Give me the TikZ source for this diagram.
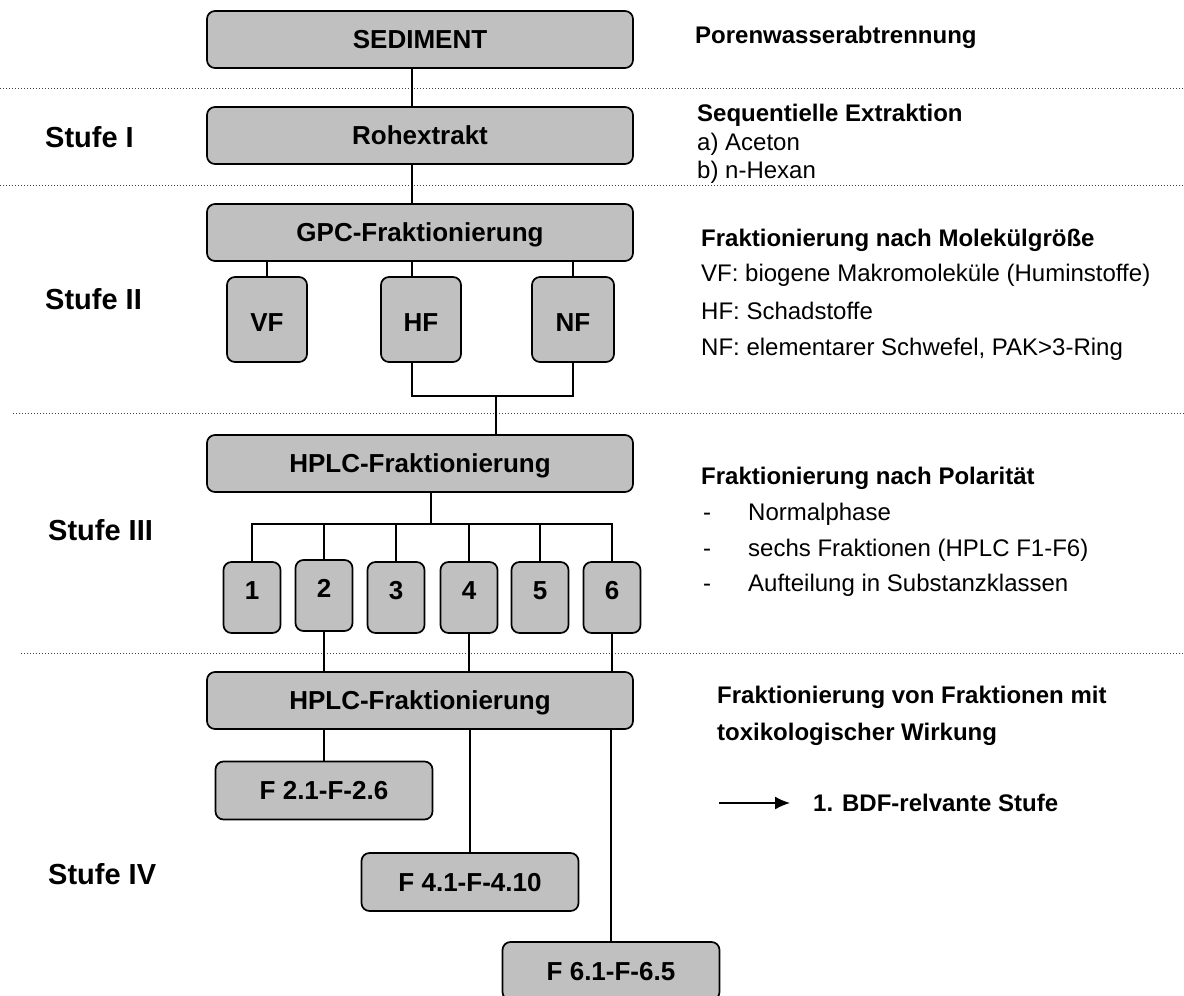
\documentclass[tikz,border=0pt]{standalone}
\usepackage{fontspec}
\setmainfont{Liberation Sans}
\usetikzlibrary{arrows.meta,calc}
\definecolor{boxgray}{RGB}{192,192,192}
\begin{document}
\begin{tikzpicture}[x=1pt,y=-1pt,
  box/.style={draw=black, line width=1.7pt, fill=boxgray, rounded corners=8pt, inner sep=0pt,
    font=\fontsize{26}{30}\selectfont\bfseries, text height=18.6pt, text depth=0pt},
  widebox/.style={box, minimum width=426pt, minimum height=57pt},
  gpcbox/.style={box, minimum width=80pt, minimum height=85pt, text height=23.6pt},
  numbox/.style={box, minimum width=57pt, minimum height=71pt, text depth=14pt},
  fbox/.style={box, minimum width=217pt, minimum height=58pt},
  conn/.style={draw=black, line width=1.7pt},
  sepline/.style={draw=black!75, line width=1pt, dash pattern=on 1pt off 2pt},
  rt/.style={anchor=west, inner sep=0pt, font=\fontsize{24}{28}\selectfont, text height=17.2pt, text depth=0pt},
  rtb/.style={rt, font=\fontsize{24}{28}\selectfont\bfseries},
  stufe/.style={anchor=west, inner sep=0pt, font=\fontsize{29}{34}\selectfont\bfseries, text height=20.8pt, text depth=0pt},
]
\clip (0,0) rectangle (1184,996);
\fill[white] (0,0) rectangle (1184,996);

% separators
\draw[sepline] (0,88) -- (1184,88);
\draw[sepline] (0,185) -- (1184,185);
\draw[sepline] (13,413) -- (1184,413);
\draw[sepline] (21,653) -- (1184,653);

% stage labels
\node[stufe] (s1) at (45,137) {Stufe I};
\node[stufe] (s2) at (45,299) {Stufe II};
\node[stufe] (s3) at (48,530) {Stufe III};
\node[stufe] (s4) at (48,874) {Stufe IV};

% boxes
\node[widebox] (sed) at (420,39.5) {SEDIMENT};
\node[widebox] (roh) at (420,135.5) {Rohextrakt};
\node[widebox] (gpc) at (420,232.5) {GPC-Fraktionierung};
\node[gpcbox] (vf) at (267,319.5) {VF};
\node[gpcbox] (hf) at (421,319.5) {HF};
\node[gpcbox, minimum width=82pt] (nf) at (573,319.5) {NF};
\node[widebox] (hplc1) at (420,463.5) {HPLC-Fraktionierung};
\node[numbox] (n1) at (252,597.5) {1};
\node[numbox] (n2) at (324,595.5) {2};
\node[numbox] (n3) at (396,597.5) {3};
\node[numbox] (n4) at (469,597.5) {4};
\node[numbox] (n5) at (540,597.5) {5};
\node[numbox] (n6) at (612,597.5) {6};
\node[widebox] (hplc2) at (420,700.5) {HPLC-Fraktionierung};
\node[fbox] (f2) at (324,790.5) {F 2.1-F-2.6};
\node[fbox] (f4) at (470,882) {F 4.1-F-4.10};
\node[fbox] (f6) at (611,971) {F 6.1-F-6.5};

% connectors
\coordinate (trunk) at (412,0);
\coordinate (j1) at (496,396);
\coordinate (j2) at (431,524);
\draw[conn] (sed.south -| trunk) -- (roh.north -| trunk);
\draw[conn] (roh.south -| trunk) -- (gpc.north -| trunk);
\draw[conn] (gpc.south -| vf.north) -- (vf.north);
\draw[conn] (gpc.south -| trunk) -- (hf.north -| trunk);
\draw[conn] (gpc.south -| nf.north) -- (nf.north);
\draw[conn] (hf.south -| trunk) |- (j1) -| (nf.south);
\draw[conn] (j1) -- (hplc1.north -| j1);
\draw[conn] (hplc1.south -| j2) -- (j2);
\draw[conn] (n1.north) -- (n1.north |- j2) -- (n6.north |- j2) -- (n6.north);
\foreach \k in {2,3,4,5} {\draw[conn] (n\k.north) -- (n\k.north |- j2);}
\draw[conn] (n2.south) -- (n2.south |- hplc2.north);
\draw[conn] (n4.south) -- (n4.south |- hplc2.north);
\draw[conn] (n6.south) -- (n6.south |- hplc2.north);
\draw[conn] (hplc2.south -| f2.north) -- (f2.north);
\draw[conn] (hplc2.south -| f4.north) -- (f4.north);
\draw[conn] (hplc2.south -| f6.north) -- (f6.north);

% right-hand texts
\node[rtb] (t1) at (695,35) {Porenwasserabtrennung};
\node[rtb] (t2) at (697,113) {Sequentielle Extraktion};
\node[rt] (t2a) at (697,142) {a) Aceton};
\node[rt] (t2b) at (697,170) {b) n-Hexan};
\node[rtb] (t3) at (701,238) {Fraktionierung nach Molekülgröße};
\node[rt] (t3a) at (701,273) {VF: biogene Makromoleküle (Huminstoffe)};
\node[rt] (t3b) at (701,311) {HF: Schadstoffe};
\node[rt] (t3c) at (701,347) {NF: elementarer Schwefel, PAK>3-Ring};
\node[rtb] (t4) at (701,476) {Fraktionierung nach Polarität};
\node[rt] (d1) at (703,512) {-};
\node[rt] (t4a) at (748,512) {Normalphase};
\node[rt] (d2) at (703,548) {-};
\node[rt] (t4b) at (748,548) {sechs Fraktionen (HPLC F1-F6)};
\node[rt] (d3) at (703,583) {-};
\node[rt] (t4c) at (748,583) {Aufteilung in Substanzklassen};
\node[rtb] (t5) at (717,695) {Fraktionierung von Fraktionen mit};
\node[rtb] (t5b) at (717,732) {toxikologischer Wirkung};
\node[rtb] (bdf) at (813,803) {1. BDF-relvante Stufe};
\coordinate (arrstart) at (719,803);
\draw[draw=black, line width=1.5pt, -{Latex[length=15pt,width=13pt]}] (arrstart) -- ($(bdf.west)+(-23,0)$);
\end{tikzpicture}
\end{document}
